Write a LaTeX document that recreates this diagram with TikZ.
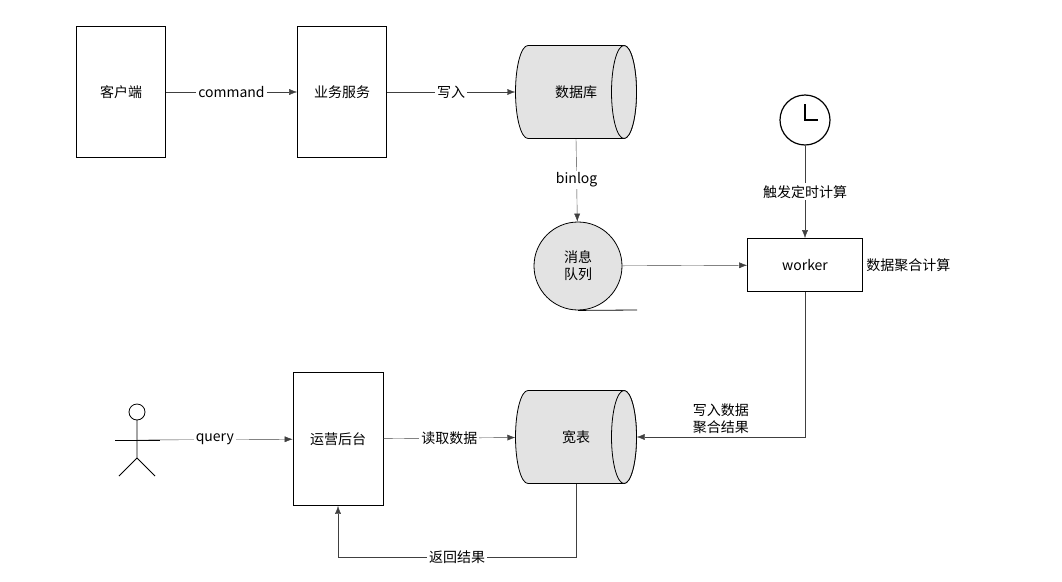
\documentclass[tikz,border=0pt]{standalone}
\usepackage{fontspec}
\setmainfont{Noto Sans CJK SC}
\usetikzlibrary{arrows.meta}
\tikzset{
  box/.style = {draw, thick, minimum width = 89pt, minimum height = 131pt, inner sep = 0pt},
  store/.style = {minimum width = 121pt, minimum height = 93pt, inner sep = 0pt},
  link/.style = {draw = black!75, -{Latex[length = 8pt, width = 6pt]}},
  lbl/.style = {fill = white, inner sep = 2pt}
}
% horizontal cylinder centred at (#1,#2)
\newcommand{\drumshape}[2]{%
  \begin{scope}[shift = {(#1, #2)}]
    \draw[thick, fill = gray!22] (48, -46.5) -- (-48, -46.5)
      arc[start angle = 270, end angle = 90, x radius = 12.5, y radius = 46.5]
      -- (48, 46.5) arc[start angle = 90, end angle = -90, x radius = 12.5, y radius = 46.5] -- cycle;
    \draw[thick, fill = gray!22] (48, 0) ellipse[x radius = 12.5, y radius = 46.5];
  \end{scope}}
\begin{document}
\begin{tikzpicture}[x = 1pt, y = -1pt, font = \fontsize{14}{17}\selectfont]
				\useasboundingbox (0, 0) rectangle (1062, 581);
				\node[box] (client) at (121, 92) {客户端};
				\node[box] (service) at (342, 92) {业务服务};
				\drumshape{576}{92}
				\node[store] (db) at (576, 92) {数据库};
				\node[circle, draw, thick, fill = gray!22, minimum size = 88pt, align = center, inner sep = 0pt] (mq) at (578, 266) {消息\\队列};
					\draw[thick] (mq.south) -- (637, 310);
				\node[draw, thick, minimum width = 115pt, minimum height = 53pt] (worker) at (805, 265) {worker};
					\node[anchor = west] (aggr) at (worker.east) {数据聚合计算};
				\node[circle, draw, very thick, minimum size = 50pt] (clock) at (805, 120) {};
					\draw[very thick] (805, 104) -- (clock.center) -- (818, 120);
				\drumshape{576}{437}
				\node[store] (wide) at (576, 437) {宽表};
				\node[box, minimum width = 90pt, minimum height = 133pt] (ops) at (338, 439) {运营后台};
				\coordinate (arms) at (137, 440);
				\draw[thick] (137, 412) circle (8pt);
				\draw[thick] (137, 420) -- (137, 458) -- (119, 476);
				\draw[thick] (137, 458) -- (155, 476);
				\draw[thick] (115, 440) -- (160, 440);
				% connectors
				\draw[link] (client) -- node[lbl] {command} (service);
				\draw[link] (service) -- node[lbl] {写入} (db);
				\draw[link] (db.south) -- node[lbl] {binlog} (mq);
				\draw[link] (mq) -- (worker);
				\draw[link] (clock) -- node[lbl] {触发定时计算} (worker);
				\draw[link] (worker.south) |- node[pos = 0.75, above, align = center] {写入数据\\聚合结果} (wide.east);
				\draw[link] (arms) -- node[lbl] {query} (ops);
				\draw[link] (ops) -- node[lbl] {读取数据} (wide);
				\draw[link] (wide.south) -- ++(0, 73) -| node[pos = 0.25, lbl] {返回结果} (ops.south);
\end{tikzpicture}
\end{document}
